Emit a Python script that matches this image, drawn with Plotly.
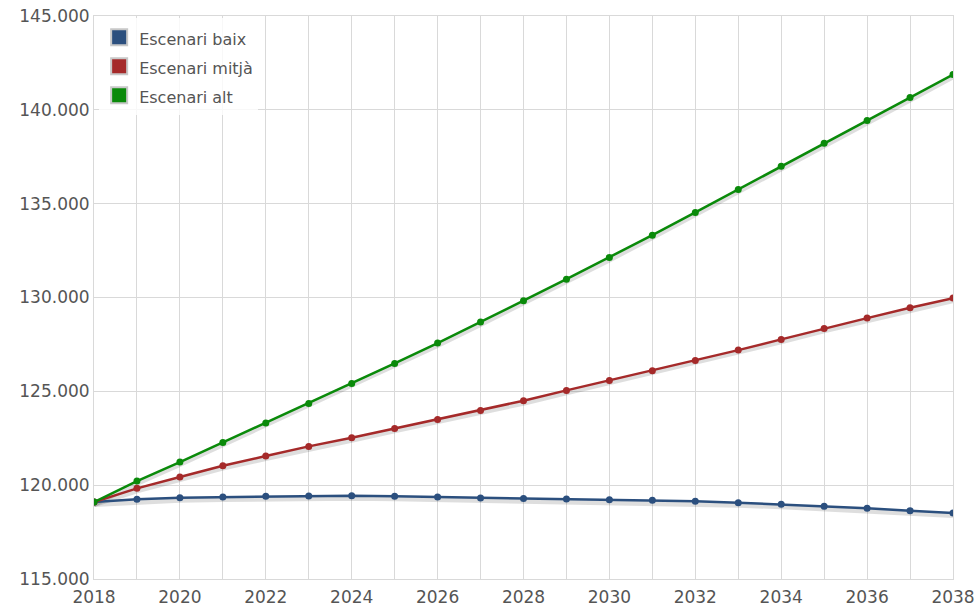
import plotly.graph_objects as go

# Population projection by scenario, 2018-2038
years = list(range(2018, 2039))

baix = [119100, 119244, 119334, 119366, 119404, 119420, 119441, 119404, 119366, 119313,
        119295, 119260, 119224, 119191, 119137, 119068, 118978, 118871, 118765, 118642, 118514]
mitja = [119100, 119830, 120432, 121039, 121550, 122067, 122530, 123026, 123505, 123985,
         124501, 125050, 125583, 126100, 126648, 127197, 127767, 128353, 128902, 129456, 129967]
alt = [119100, 120219, 121231, 122280, 123308, 124358, 125423, 126489, 127570, 128689,
       129829, 130979, 132135, 133323, 134532, 135757, 136999, 138224, 139433, 140658, 141884]

series_names = ["Escenari baix", "Escenari mitjà", "Escenari alt"]
series_values = [baix, mitja, alt]
series_colors = ["#2b4f7e", "#a52a2a", "#0a8a0a"]

y_range = [115000, 145000]
x_range = [2018, 2038]
y_ticks = list(range(115000, 145001, 5000))
x_ticks = list(range(2018, 2039, 2))

W, H = 978, 608
margin = dict(l=94, r=25, t=16, b=29, autoexpand=False)
plot_h = H - margin["t"] - margin["b"]
# drop shadow offset of ~2.5 px expressed in data units
shadow_dy = 2.5 * (y_range[1] - y_range[0]) / plot_h

fig = go.Figure()

# soft shadows under each line
for vals in series_values:
    fig.add_trace(go.Scatter(
        x=years, y=[v - shadow_dy for v in vals], mode="lines",
        line=dict(color="rgba(0,0,0,0.13)", width=5),
        hoverinfo="skip", showlegend=False))

for name, vals, color in zip(series_names, series_values, series_colors):
    fig.add_trace(go.Scatter(
        x=years, y=vals, mode="lines+markers", name=name,
        line=dict(color=color, width=2.5),
        marker=dict(color=color, size=7),
        showlegend=False))
    # square swatch for the legend; larger legend font sets the row pitch
    fig.add_trace(go.Scatter(
        x=[None], y=[None], mode="markers",
        name=f'<span style="font-size:16px">{name}</span>',
        marker=dict(symbol="square", color=color, size=19,
                    line=dict(color="#c8c8c8", width=2)),
        showlegend=True))

grid = "#d9d9d9"
family = "DejaVu Sans, Verdana, sans-serif"
tick_font = dict(family=family, size=17, color="#555555")

fig.update_layout(
    width=W, height=H,
    margin=margin,
    paper_bgcolor="white",
    plot_bgcolor="white",
    separators=",.",
    font=dict(family=family, size=16, color="#555555"),
    showlegend=True,
    legend=dict(
        x=0.006, y=0.997, xanchor="left", yanchor="top",
        bgcolor="rgba(255,255,255,0.8)",
        font=dict(family=family, size=20, color="#555555"),
        itemsizing="trace",
        traceorder="normal",
    ),
    xaxis=dict(
        range=x_range, tickmode="array", tickvals=x_ticks,
        showgrid=True, gridcolor=grid, gridwidth=1,
        minor=dict(dtick=1, tick0=2018, showgrid=True, gridcolor=grid, gridwidth=1),
        showline=True, linecolor=grid, linewidth=1, mirror=True,
        zeroline=False, ticks="", ticklen=0, automargin=False,
        ticklabelstandoff=3,
        tickfont=tick_font,
    ),
    yaxis=dict(
        range=y_range, tickmode="array", tickvals=y_ticks,
        tickformat=",.0f",
        showgrid=True, gridcolor=grid, gridwidth=1,
        showline=True, linecolor=grid, linewidth=1, mirror=True,
        zeroline=False, ticks="", ticklen=0, automargin=False,
        tickfont=tick_font,
    ),
)

fig.write_html("out.html")
